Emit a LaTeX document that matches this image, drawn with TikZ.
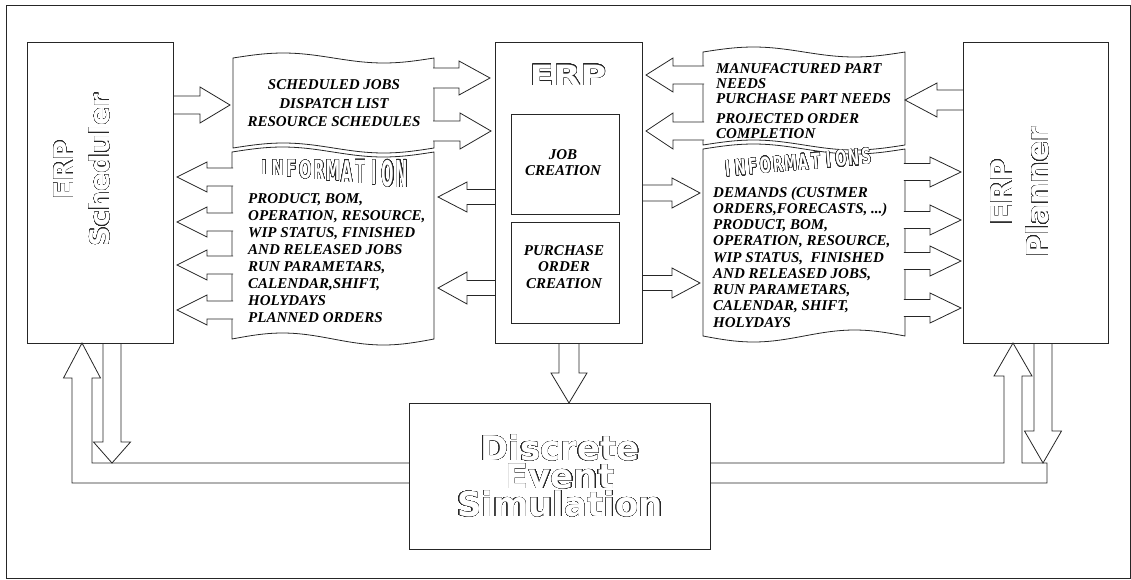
\documentclass[tikz,border=0pt]{standalone}
\usepackage{fontspec}
\usepackage{graphicx}
\usepackage{contour}
\setmainfont{Liberation Serif}
\newfontfamily\djv{DejaVu Sans}
\contourlength{0.4pt}
\contournumber{36}
\newcommand{\outl}[1]{\contour{black!85}{\textcolor{white}{#1}}}
\tikzset{
  ln/.style={draw=black!85, line width=0.8pt},
  blk/.style={ln, fill=white, line join=miter},
  box/.style={ln, inner sep=0pt, outer sep=0pt},
  scroll/.style={ln, fill=white},
  tx/.style={inner sep=0pt, font=\bfseries\itshape\fontsize{15}{#1}\selectfont},
  tx/.default=16.9
}
% horizontal block arrow: tail x, head-base x, tip x, y, shaft half width, head half width
\newcommand{\harrow}[6]{%
  \draw[blk] ({#1},{#4-#5}) -- ({#2},{#4-#5}) -- ({#2},{#4-#6}) -- ({#3},{#4})
    -- ({#2},{#4+#6}) -- ({#2},{#4+#5}) -- ({#1},{#4+#5});}
% vertical block arrow: x, tail y, head-base y, tip y, shaft half width, head half width
\newcommand{\varrow}[6]{%
  \draw[blk] ({#1-#5},{#2}) -- ({#1-#5},{#3}) -- ({#1-#6},{#3}) -- ({#1},{#4})
    -- ({#1+#6},{#3}) -- ({#1+#5},{#3}) -- ({#1+#5},{#2});}
\begin{document}
\begin{tikzpicture}[x=1pt,y=-1pt]
\useasboundingbox (0,0) rectangle (1131,579);
\draw[ln] (6,5) rectangle (1130,578);

% scrolls
\draw[scroll] plot[domain=0:1,samples=41] ({233+201*\x},{58-5*sin(360*\x)})
  -- plot[domain=1:0,samples=41] ({233+201*\x},{148-5*sin(360*\x)}) -- cycle;
\draw[scroll] plot[domain=0:1,samples=41] ({232+202*\x},{152-5*sin(360*\x)})
  -- plot[domain=1:0,samples=41] ({232+202*\x},{339-6*sin(360*\x)}) -- cycle;
\draw[scroll] plot[domain=0:1,samples=41] ({703+202*\x},{52-5*sin(360*\x)})
  -- plot[domain=1:0,samples=41] ({703+202*\x},{145-5*sin(360*\x)}) -- cycle;
\draw[scroll] plot[domain=0:1,samples=41] ({703+202*\x},{149-5*sin(360*\x)})
  -- plot[domain=1:0,samples=41] ({703+202*\x},{336+6*sin(360*\x)}) -- cycle;

% left side arrows
\harrow{173}{200}{230}{105}{9}{18}
\harrow{433}{459}{490}{78}{10}{17}
\harrow{433}{460}{491}{131}{10}{18}
\harrow{495}{467}{438}{197}{7.5}{15}
\harrow{495}{467}{438}{288}{7.5}{16}
\harrow{233.2}{207}{177}{177}{9}{15}
\harrow{233.2}{207}{177}{222}{9}{15}
\harrow{233.2}{207}{177}{265}{9}{15}
\harrow{233.2}{207}{177}{310}{9}{15}

% right side arrows
\harrow{963}{937}{905}{100}{10}{17}
\harrow{704.2}{673}{646}{75}{9}{17}
\harrow{704.2}{673}{646}{131}{9}{18}
\harrow{642}{672}{700}{193}{8}{15}
\harrow{642}{672}{700}{283}{7.5}{15}
\harrow{903.8}{930}{961}{172}{8.5}{15}
\harrow{903.8}{930}{961}{220}{8.5}{15}
\harrow{903.8}{930}{961}{261}{8.5}{15}
\harrow{903.8}{930}{961}{308}{8.5}{15}

% bottom arrows and loops
\varrow{569}{343}{373}{403}{10}{18}
\draw[blk] (409,463) -- (92,463) -- (92,378) -- (100.5,378) -- (82,343)
  -- (63.5,378) -- (72,378) -- (72,483) -- (409,483);
\varrow{112}{343}{442}{463}{9}{18.5}
\draw[blk] (710,463) -- (1004,463) -- (1004,376) -- (994,376) -- (1013,343)
  -- (1032,376) -- (1022,376) -- (1022,463) -- (1047,463) -- (1047,483) -- (710,483);
\varrow{1043}{343}{431}{463}{9}{18.5}

% boxes
\node[box, minimum width=146, minimum height=301] (sched) at (100,192.5) {};
\node[box, minimum width=145, minimum height=301] (plan) at (1035.5,192.5) {};
\node[box, minimum width=147, minimum height=301] (erp) at (568.5,192.5) {};
\node[box, minimum width=108, minimum height=100] (job) at (565,164) {};
\node[box, minimum width=108, minimum height=101] (po) at (565,272.5) {};
\node[box, minimum width=301, minimum height=146] (des) at (559.5,476) {};

% outlined titles
\node[rotate=90, align=center, inner sep=0pt, font=\djv\bfseries\fontsize{27}{36}\selectfont] (schedtxt) at (82,170) {\outl{ERP}\\\outl{Scheduler}};
\node[rotate=90, align=center, inner sep=0pt, font=\djv\bfseries\fontsize{30}{36}\selectfont] (plantxt) at (1020,192) {\outl{ERP}\\\outl{Planner}};
\node[inner sep=0pt, font=\djv\bfseries\fontsize{28}{30}\selectfont] (erptxt) at (568,75) {\outl{\scalebox{1.25}[1]{ERP}}};
\node[align=center, inner sep=0pt, font=\djv\bfseries\fontsize{34}{28}\selectfont] (destxt) at (560,476) {\outl{Discrete}\\\outl{Event}\\\outl{Simulation}};

\foreach \l [count=\i from 0] in {I,N,F,O,R,M,A,T,I,O,N} {
  \pgfmathsetmacro\sy{(14+1.3*\i)/10.2}
  \node[anchor=north, inner sep=0pt, font=\djv\bfseries\fontsize{14}{14}\selectfont] (infl\i) at ({257+13.8*(\i+0.5)},160) {\outl{\scalebox{1.05}[\sy]{\l}}};
}
\foreach \l [count=\i from 0] in {I,N,F,O,R,M,A,T,I,O,N,S} {
  \node[anchor=south, rotate=5, inner sep=0pt, font=\djv\bfseries\fontsize{14}{14}\selectfont] (infr\i) at ({722+12.6*(\i+0.5)},{177-12*\i/11}) {\outl{\scalebox{0.95}[1.55]{\l}}};
}

% scroll and box texts
\node[tx=18.5, align=center] (tltxt) at (334,103.5) {SCHEDULED JOBS\\DISPATCH LIST\\RESOURCE SCHEDULES};
\node[tx=16.9, align=left, anchor=west] (iltxt) at (248,258) {PRODUCT, BOM,\\OPERATION, RESOURCE,\\WIP STATUS, FINISHED\\AND RELEASED JOBS\\RUN PARAMETARS,\\CALENDAR,SHIFT,\\HOLYDAYS\\PLANNED ORDERS};
\node[tx=15, align=left, anchor=west] (trtxt) at (716,101) {MANUFACTURED PART\\NEEDS\\PURCHASE PART NEEDS\\[5pt]PROJECTED ORDER\\COMPLETION};
\node[tx=16.25, align=left, anchor=west] (irtxt) at (713,257) {DEMANDS (CUSTMER\\ORDERS,FORECASTS, ...)\\PRODUCT, BOM,\\OPERATION, RESOURCE,\\WIP STATUS,\ \ FINISHED\\AND RELEASED JOBS,\\RUN PARAMETARS,\\CALENDAR, SHIFT,\\HOLYDAYS};
\node[tx=16, align=center] (jobtxt) at (563,163) {JOB\\CREATION};
\node[tx=16.5, align=center] (potxt) at (564,267) {PURCHASE\\ORDER\\CREATION};
\end{tikzpicture}
\end{document}
